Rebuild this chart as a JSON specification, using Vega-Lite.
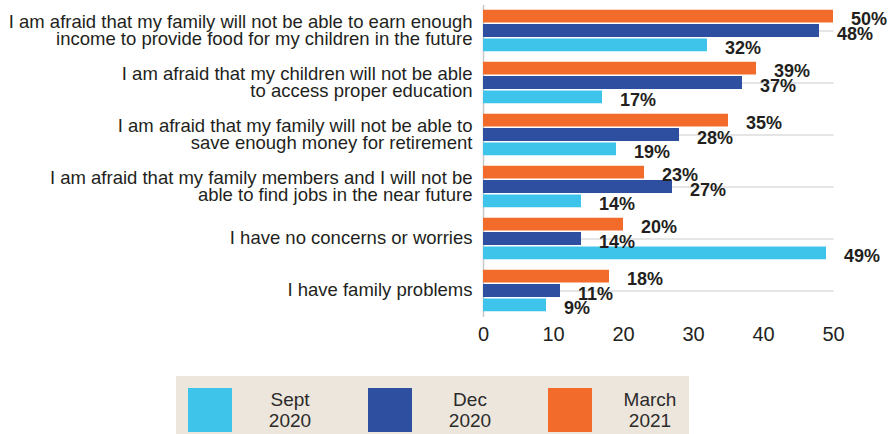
{
  "$schema": "https://vega.github.io/schema/vega-lite/v6.json",
  "autosize": {"type": "none"},
  "width": 350,
  "height": 312,
  "padding": {"left": 483, "top": 4.5, "right": 61, "bottom": 117.5},
  "background": "white",
  "config": {
    "font": "Liberation Sans",
    "view": {"stroke": null}
  },
  "data": {
    "values": [
      {"category": "I am afraid that my family will not be able to earn enough|income to provide food for my children in the future", "period": "March 2021", "value": 50, "label": "50%"},
      {"category": "I am afraid that my family will not be able to earn enough|income to provide food for my children in the future", "period": "Dec 2020", "value": 48, "label": "48%"},
      {"category": "I am afraid that my family will not be able to earn enough|income to provide food for my children in the future", "period": "Sept 2020", "value": 32, "label": "32%"},
      {"category": "I am afraid that my children will not be able|to access proper education", "period": "March 2021", "value": 39, "label": "39%"},
      {"category": "I am afraid that my children will not be able|to access proper education", "period": "Dec 2020", "value": 37, "label": "37%"},
      {"category": "I am afraid that my children will not be able|to access proper education", "period": "Sept 2020", "value": 17, "label": "17%"},
      {"category": "I am afraid that my family will not be able to|save enough money for retirement", "period": "March 2021", "value": 35, "label": "35%"},
      {"category": "I am afraid that my family will not be able to|save enough money for retirement", "period": "Dec 2020", "value": 28, "label": "28%"},
      {"category": "I am afraid that my family will not be able to|save enough money for retirement", "period": "Sept 2020", "value": 19, "label": "19%"},
      {"category": "I am afraid that my family members and I will not be|able to find jobs in the near future", "period": "March 2021", "value": 23, "label": "23%"},
      {"category": "I am afraid that my family members and I will not be|able to find jobs in the near future", "period": "Dec 2020", "value": 27, "label": "27%"},
      {"category": "I am afraid that my family members and I will not be|able to find jobs in the near future", "period": "Sept 2020", "value": 14, "label": "14%"},
      {"category": "I have no concerns or worries", "period": "March 2021", "value": 20, "label": "20%"},
      {"category": "I have no concerns or worries", "period": "Dec 2020", "value": 14, "label": "14%"},
      {"category": "I have no concerns or worries", "period": "Sept 2020", "value": 49, "label": "49%"},
      {"category": "I have family problems", "period": "March 2021", "value": 18, "label": "18%"},
      {"category": "I have family problems", "period": "Dec 2020", "value": 11, "label": "11%"},
      {"category": "I have family problems", "period": "Sept 2020", "value": 9, "label": "9%"}
    ]
  },
  "encoding": {
    "y": {
      "field": "category",
      "type": "nominal",
      "sort": null,
      "scale": {"paddingInner": 0.2, "paddingOuter": 0.1},
      "axis": {
        "title": null,
        "labelExpr": "split(datum.label, '|')",
        "labelOffset": {"expr": "indexof(datum.value, '|') >= 0 ? -9 : -1"},
        "labelFontSize": 18.5,
        "labelColor": "#231f20",
        "labelLineHeight": 17,
        "labelPadding": 11,
        "labelLimit": 600,
        "ticks": false,
        "domainColor": "#c8c8c8",
        "domainWidth": 1.5,
        "grid": true,
        "gridColor": "#dcdcdc",
        "gridWidth": 1.5
      }
    },
    "yOffset": {
      "field": "period",
      "type": "nominal",
      "sort": ["March 2021", "Dec 2020", "Sept 2020"],
      "scale": {"paddingInner": 0.1}
    },
    "x": {
      "field": "value",
      "type": "quantitative",
      "scale": {"domain": [0, 50], "nice": false},
      "axis": {
        "title": null,
        "values": [0, 10, 20, 30, 40, 50],
        "grid": false,
        "domain": false,
        "ticks": false,
        "labelFontSize": 20,
        "labelColor": "#231f20",
        "labelPadding": 8,
        "labelFlush": false
      }
    }
  },
  "layer": [
    {
      "mark": {"type": "bar"},
      "encoding": {
        "color": {
          "field": "period",
          "type": "nominal",
          "scale": {
            "domain": ["Sept 2020", "Dec 2020", "March 2021"],
            "range": ["#3ec3ea", "#2e4f9f", "#f26b2a"]
          },
          "legend": {
            "title": null,
            "orient": "none",
            "direction": "horizontal",
            "legendX": -307,
            "legendY": 371.5,
            "padding": 12,
            "fillColor": "#ede6dd",
            "symbolType": "square",
            "symbolSize": 1936,
            "symbolStrokeWidth": 0,
            "symbolOpacity": 1,
            "labelExpr": "split(datum.label, ' ')",
            "labelFontSize": 19,
            "labelFont": "Liberation Sans",
            "labelColor": "#2b2b2b",
            "labelLineHeight": 26,
            "labelAlign": "center",
            "labelBaseline": "bottom",
            "labelOffset": 58,
            "columnPadding": 56
          }
        }
      }
    },
    {
      "mark": {"type": "text", "align": "left", "baseline": "middle", "dx": 18, "dy": 4, "fontWeight": "bold", "fontSize": 18, "color": "#231f20"},
      "encoding": {
        "text": {"field": "label", "type": "nominal"}
      }
    }
  ]
}
